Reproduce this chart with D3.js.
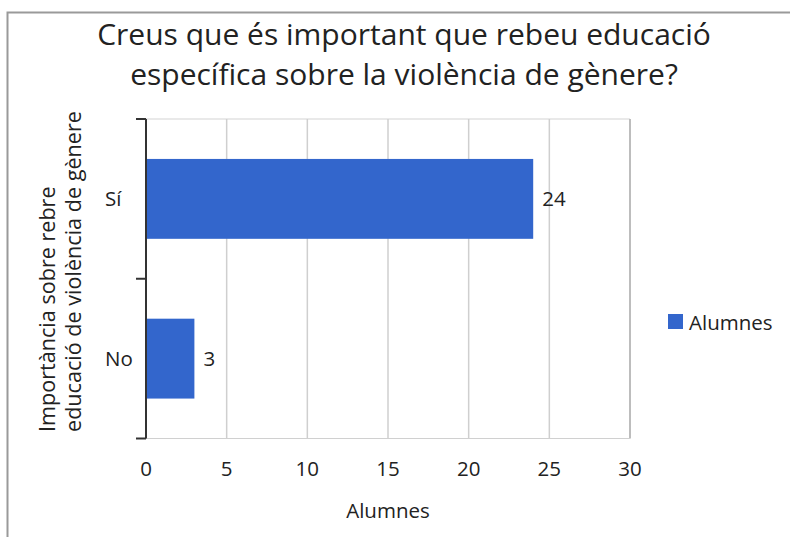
<!DOCTYPE html>
<html>
<head>
<meta charset="utf-8">
<script src="https://cdn.jsdelivr.net/npm/d3@7"></script>
<style>
  html, body { margin: 0; padding: 0; background: #fff; }
  svg { display: block; }
  text { font-family: "Open Sans", "Noto Sans", sans-serif; fill: #222; }
</style>
</head>
<body>
<svg id="chart" width="790" height="537"></svg>
<script>
// Survey answers: number of students per response
const categories = ["Sí", "No"];
const alumnes = [24, 3];
const xTicks = [0, 5, 10, 15, 20, 25, 30];
const titleLines = ["Creus que és important que rebeu educació", "específica sobre la violència de gènere?"];
const yTitleLines = ["Importància sobre rebre", "educació de violència de gènere"];
const xTitle = "Alumnes";
const seriesName = "Alumnes";

const svg = d3.select("#chart");
const barColor = "#3366cc";
const fs = 20.5;

// outer frame
svg.append("rect")
  .attr("x", 7.5).attr("y", 12.5)
  .attr("width", 800).attr("height", 600)
  .attr("fill", "none").attr("stroke", "#9a9a9a").attr("stroke-width", 2);

const plot = { left: 146, right: 630, top: 119, bottom: 438.5 };

const x = d3.scaleLinear().domain([0, 30]).range([plot.left, plot.right]);
const y = d3.scaleBand().domain(categories).range([plot.top, plot.bottom]).paddingInner(0.5).paddingOuter(0.25);
const yOuter = d3.scaleBand().domain(categories).range([plot.top, plot.bottom]);

// title
svg.append("text")
  .attr("text-anchor", "middle")
  .attr("font-size", 30)
  .selectAll("tspan").data(titleLines).join("tspan")
  .attr("x", 404).attr("y", (d, i) => 45 + i * 40)
  .text(d => d);

// top border of plot area
svg.append("line")
  .attr("x1", plot.left).attr("x2", plot.right)
  .attr("y1", plot.top).attr("y2", plot.top)
  .attr("stroke", "#d4d4d4").attr("stroke-width", 1.2);

// vertical gridlines
svg.append("g").selectAll("line").data(xTicks.slice(1)).join("line")
  .attr("x1", d => x(d)).attr("x2", d => x(d))
  .attr("y1", plot.top).attr("y2", plot.bottom)
  .attr("stroke", d => d === 30 ? "#bdbdbd" : "#cfcfcf")
  .attr("stroke-width", d => d === 30 ? 2 : 1.5);

// bottom line of plot area
svg.append("line")
  .attr("x1", plot.left).attr("x2", plot.right)
  .attr("y1", plot.bottom).attr("y2", plot.bottom)
  .attr("stroke", "#d0d0d0").attr("stroke-width", 1.2);

// bars
svg.append("g").selectAll("rect").data(categories).join("rect")
  .attr("x", x(0))
  .attr("y", d => y(d))
  .attr("width", (d, i) => x(alumnes[i]) - x(0))
  .attr("height", y.bandwidth())
  .attr("fill", barColor);

// value labels
svg.append("g").selectAll("text").data(categories).join("text")
  .attr("x", (d, i) => x(alumnes[i]) + 9)
  .attr("y", d => y(d) + y.bandwidth() / 2 + 7.5)
  .attr("font-size", fs)
  .text((d, i) => alumnes[i]);

// y axis line and ticks
const yAxis = svg.append("g");
yAxis.append("line")
  .attr("x1", plot.left).attr("x2", plot.left)
  .attr("y1", plot.top).attr("y2", plot.bottom)
  .attr("stroke", "#333").attr("stroke-width", 2);
const tickYs = categories.map(c => yOuter(c)).concat([plot.bottom]);
yAxis.selectAll("line.tick").data(tickYs).join("line")
  .attr("class", "tick")
  .attr("x1", plot.left - 10).attr("x2", plot.left)
  .attr("y1", d => d).attr("y2", d => d)
  .attr("stroke", "#333").attr("stroke-width", 2);

// category labels
svg.append("g").selectAll("text").data(categories).join("text")
  .attr("x", 105)
  .attr("y", d => yOuter(d) + yOuter.bandwidth() / 2 + 7.5)
  .attr("font-size", fs)
  .text(d => d);

// x tick labels
svg.append("g").selectAll("text").data(xTicks).join("text")
  .attr("x", d => x(d))
  .attr("y", 476)
  .attr("text-anchor", "middle")
  .attr("font-size", fs)
  .text(d => d);

// x axis title
svg.append("text")
  .attr("x", 388).attr("y", 518)
  .attr("text-anchor", "middle")
  .attr("font-size", fs)
  .text(xTitle);

// y axis title (rotated, two lines)
svg.append("text")
  .attr("transform", "translate(0,432) rotate(-90)")
  .attr("font-size", 21.6)
  .selectAll("tspan").data(yTitleLines).join("tspan")
  .attr("x", 0).attr("y", (d, i) => 55 + i * 26)
  .text(d => d);

// legend
const legend = svg.append("g").attr("transform", "translate(668,314)");
legend.append("rect").attr("width", 15).attr("height", 15).attr("fill", barColor);
legend.append("text").attr("x", 21).attr("y", 16).attr("font-size", fs).text(seriesName);
</script>
</body>
</html>
